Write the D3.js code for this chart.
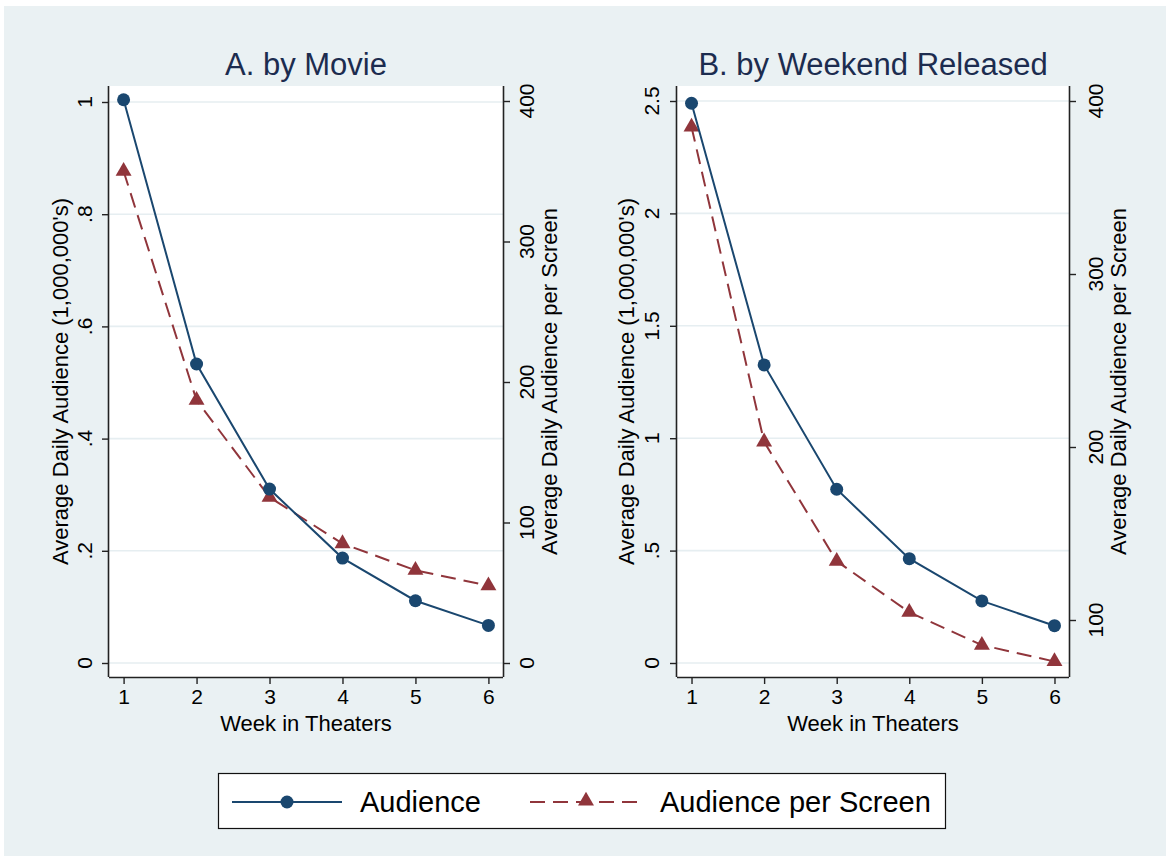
<!DOCTYPE html>
<html>
<head>
<meta charset="utf-8">
<script src="https://cdn.jsdelivr.net/npm/d3@7"></script>
<style>
  html, body { margin: 0; padding: 0; background: #ffffff; }
  svg { display: block; }
  text { font-family: "Liberation Sans", Arial, Helvetica, sans-serif; }
</style>
</head>
<body>
<svg id="chart" width="1166" height="856"></svg>
<script>
// Weeks since release
const weeks = [1, 2, 3, 4, 5, 6];

// Panel A: averaged by movie
const movieAudience = [1.004, 0.533, 0.310, 0.187, 0.111, 0.067];        // millions
const movieAudiencePerScreen = [350, 187, 118, 85, 66, 55];

// Panel B: averaged by weekend of release
const weekendAudience = [2.49, 1.326, 0.773, 0.464, 0.276, 0.166];       // millions
const weekendAudiencePerScreen = [385, 203, 134, 104.5, 85.5, 76];

// Tick values
const leftTicksA = [0, 0.2, 0.4, 0.6, 0.8, 1];
const leftTicksB = [0, 0.5, 1, 1.5, 2, 2.5];
const rightTicksA = [0, 100, 200, 300, 400];
const rightTicksB = [100, 200, 300, 400];

const panelTitles = ["A. by Movie", "B. by Weekend Released"];
const xTitle = "Week in Theaters";
const leftTitle = "Average Daily Audience (1,000,000's)";
const rightTitle = "Average Daily Audience per Screen";
const legendLabels = ["Audience", "Audience per Screen"];

const NAVY = "#1a476f";
const MAROON = "#90353b";
const BG = "#eaf1f3";
const GRID = "#e6eef1";
const TITLE_COLOR = "#1c2c4f";
const TRI_SIZE = 110;

const svg = d3.select("#chart");

// Graph background
svg.append("rect")
  .attr("x", 4).attr("y", 6).attr("width", 1162).attr("height", 850)
  .attr("fill", BG);

// Drop Stata-style leading zero: 0.2 -> .2
const fmt = v => {
  const s = String(v);
  return s.startsWith("0.") ? s.slice(1) : s;
};

const panels = [
  {
    title: panelTitles[0],
    left: 109, right: 503, top: 86, bottom: 677,
    audience: movieAudience, perScreen: movieAudiencePerScreen,
    yL: d3.scaleLinear().domain([0, 1]).range([663, 102]),
    yR: d3.scaleLinear().domain([0, 400]).range([663, 101]),
    leftTicks: leftTicksA, rightTicks: rightTicksA,
    leftLabelX: 84, leftTitleX: 60, rightLabelX: 526, rightTitleX: 549
  },
  {
    title: panelTitles[1],
    left: 677, right: 1069, top: 86, bottom: 677,
    audience: weekendAudience, perScreen: weekendAudiencePerScreen,
    yL: d3.scaleLinear().domain([0, 2.5]).range([663, 101]),
    yR: d3.scaleLinear().domain([100, 400]).range([620, 101]),
    leftTicks: leftTicksB, rightTicks: rightTicksB,
    leftLabelX: 651, leftTitleX: 626, rightLabelX: 1095, rightTitleX: 1118
  }
];

panels.forEach(p => {
  const g = svg.append("g");
  const x = d3.scaleLinear().domain([0.8, 6.2]).range([p.left, p.right]);

  // Plot region
  g.append("rect")
    .attr("x", p.left).attr("y", p.top)
    .attr("width", p.right - p.left).attr("height", p.bottom - p.top)
    .attr("fill", "#ffffff");

  // Horizontal gridlines at left-axis ticks
  g.selectAll(".grid").data(p.leftTicks).enter().append("line")
    .attr("x1", p.left).attr("x2", p.right)
    .attr("y1", d => p.yL(d)).attr("y2", d => p.yL(d))
    .attr("stroke", GRID).attr("stroke-width", 1.6);

  // Bottom axis
  const xAxis = d3.axisBottom(x).tickValues(weeks).tickSize(7).tickPadding(5)
    .tickFormat(d3.format("d"));
  const gx = g.append("g").attr("transform", `translate(0,${p.bottom})`).call(xAxis);
  gx.select(".domain").attr("d", `M${p.left},0.5H${p.right}`).attr("stroke", "#222").attr("stroke-width", 1.6);
  gx.selectAll(".tick line").attr("stroke", "#222").attr("stroke-width", 1.4);
  gx.selectAll(".tick text").attr("font-size", 21).attr("fill", "#000")
    .attr("font-family", "'Liberation Sans', Arial, sans-serif");

  // Left axis
  const yAxisL = d3.axisLeft(p.yL).tickValues(p.leftTicks).tickSize(7).tickFormat(() => "");
  const gl = g.append("g").attr("transform", `translate(${p.left},0)`).call(yAxisL);
  gl.select(".domain").attr("d", `M-0.5,${p.top}V${p.bottom}`).attr("stroke", "#222").attr("stroke-width", 1.6);
  gl.selectAll(".tick line").attr("stroke", "#222").attr("stroke-width", 1.4);
  g.selectAll(".ltick").data(p.leftTicks).enter().append("text")
    .attr("transform", d => `translate(${p.leftLabelX},${p.yL(d)}) rotate(-90)`)
    .attr("text-anchor", "middle").attr("dy", "0.36em")
    .attr("font-size", 21).attr("fill", "#000")
    .text(fmt);

  // Right axis
  const yAxisR = d3.axisRight(p.yR).tickValues(p.rightTicks).tickSize(7).tickFormat(() => "");
  const gr = g.append("g").attr("transform", `translate(${p.right},0)`).call(yAxisR);
  gr.select(".domain").attr("d", `M0.5,${p.top}V${p.bottom}`).attr("stroke", "#222").attr("stroke-width", 1.6);
  gr.selectAll(".tick line").attr("stroke", "#222").attr("stroke-width", 1.4);
  g.selectAll(".rtick").data(p.rightTicks).enter().append("text")
    .attr("transform", d => `translate(${p.rightLabelX},${p.yR(d)}) rotate(-90)`)
    .attr("text-anchor", "middle").attr("dy", "0.36em")
    .attr("font-size", 21).attr("fill", "#000")
    .text(d => String(d));

  // Axis titles
  const midY = (p.top + p.bottom) / 2;
  g.append("text")
    .attr("transform", `translate(${p.leftTitleX},${midY}) rotate(-90)`)
    .attr("text-anchor", "middle").attr("dy", "0.36em")
    .attr("font-size", 22).attr("fill", "#000")
    .text(leftTitle);
  g.append("text")
    .attr("transform", `translate(${p.rightTitleX},${midY}) rotate(-90)`)
    .attr("text-anchor", "middle").attr("dy", "0.36em")
    .attr("font-size", 22).attr("fill", "#000")
    .text(rightTitle);
  g.append("text")
    .attr("x", (p.left + p.right) / 2).attr("y", 731)
    .attr("text-anchor", "middle")
    .attr("font-size", 22).attr("fill", "#000")
    .text(xTitle);

  // Panel title
  g.append("text")
    .attr("x", (p.left + p.right) / 2).attr("y", 75)
    .attr("text-anchor", "middle")
    .attr("font-size", 31).attr("fill", TITLE_COLOR)
    .text(p.title);

  // Audience per screen (right axis), dashed with triangles
  const perData = weeks.map((w, i) => ({ w, v: p.perScreen[i] }));
  g.append("path")
    .datum(perData)
    .attr("fill", "none").attr("stroke", MAROON).attr("stroke-width", 2)
    .attr("stroke-dasharray", "15,8")
    .attr("d", d3.line().x(d => x(d.w)).y(d => p.yR(d.v)));
  g.selectAll(".tri").data(perData).enter().append("path")
    .attr("transform", d => `translate(${x(d.w)},${p.yR(d.v)})`)
    .attr("d", d3.symbol().type(d3.symbolTriangle).size(TRI_SIZE))
    .attr("fill", MAROON);

  // Audience (left axis), solid with circles
  const audData = weeks.map((w, i) => ({ w, v: p.audience[i] }));
  g.append("path")
    .datum(audData)
    .attr("fill", "none").attr("stroke", NAVY).attr("stroke-width", 2)
    .attr("d", d3.line().x(d => x(d.w)).y(d => p.yL(d.v)));
  g.selectAll(".dot").data(audData).enter().append("circle")
    .attr("cx", d => x(d.w)).attr("cy", d => p.yL(d.v))
    .attr("r", 6.5).attr("fill", NAVY);
});

// Legend
const lg = svg.append("g");
lg.append("rect")
  .attr("x", 218.5).attr("y", 773.5).attr("width", 727).attr("height", 55)
  .attr("fill", "#ffffff").attr("stroke", "#111").attr("stroke-width", 1.2);
const ly = 802;
lg.append("line").attr("x1", 232).attr("x2", 342).attr("y1", ly).attr("y2", ly)
  .attr("stroke", NAVY).attr("stroke-width", 2);
lg.append("circle").attr("cx", 287).attr("cy", ly).attr("r", 6.5).attr("fill", NAVY);
lg.append("text").attr("x", 360).attr("y", 812).attr("font-size", 29).attr("fill", "#000")
  .text(legendLabels[0]);
lg.append("line").attr("x1", 530).attr("x2", 641).attr("y1", ly).attr("y2", ly)
  .attr("stroke", MAROON).attr("stroke-width", 2).attr("stroke-dasharray", "15,8");
lg.append("path").attr("transform", `translate(586,${ly - 1})`)
  .attr("d", d3.symbol().type(d3.symbolTriangle).size(TRI_SIZE)).attr("fill", MAROON);
lg.append("text").attr("x", 660).attr("y", 812).attr("font-size", 29).attr("fill", "#000")
  .text(legendLabels[1]);
</script>
</body>
</html>
